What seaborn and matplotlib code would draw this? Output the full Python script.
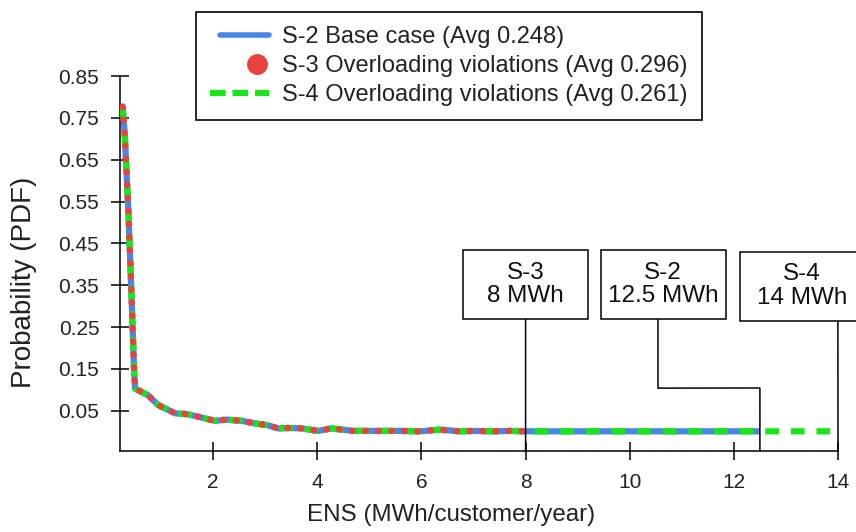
import numpy as np
import pandas as pd
import matplotlib
matplotlib.use("Agg")
import matplotlib.pyplot as plt
from matplotlib.lines import Line2D
from matplotlib.path import Path
from matplotlib.legend_handler import HandlerLine2D
import seaborn as sns

# ENS / probability values (same shape for all three scenarios up to 8 MWh)
ens_head = [0.26, 0.30, 0.37, 0.43, 0.48, 0.50, 0.55, 0.75, 0.94, 1.27, 1.50, 1.71, 2.03, 2.26,
            2.55, 2.80, 3.03, 3.25, 3.45, 3.70, 4.02, 4.27, 4.69, 5.20, 5.60, 5.97, 6.35, 6.74,
            7.00, 7.37, 7.70, 8.00]
pdf_head = [0.777, 0.713, 0.530, 0.330, 0.147, 0.103, 0.100, 0.087, 0.064, 0.044, 0.042, 0.036,
            0.026, 0.029, 0.026, 0.020, 0.016, 0.008, 0.009, 0.008, 0.002, 0.008, 0.002, 0.002,
            0.002, 0.001, 0.005, 0.001, 0.002, 0.001, 0.002, 0.001]

# tails beyond 8 MWh
ens_tail_s2 = [9.0, 10.0, 11.0, 12.0, 12.5]
pdf_tail_s2 = [0.001, 0.001, 0.001, 0.001, 0.001]
ens_tail_s4 = [9.0, 10.0, 11.0, 12.0, 13.0, 14.0]
pdf_tail_s4 = [0.001, 0.001, 0.001, 0.001, 0.001, 0.001]

labels = ["S-2 Base case (Avg 0.248)",
          "S-3 Overloading violations (Avg 0.296)",
          "S-4 Overloading violations (Avg 0.261)"]
box_texts = ["S-3\n8 MWh", "S-2\n12.5 MWh", "S-4\n14 MWh"]

blue = "#4a86e8"
red = "#e8433a"
green = "#19e619"

s2 = pd.DataFrame({"ENS": ens_head + ens_tail_s2, "PDF": pdf_head + pdf_tail_s2})
s3 = pd.DataFrame({"ENS": ens_head, "PDF": pdf_head})
s4 = pd.DataFrame({"ENS": ens_head + ens_tail_s4, "PDF": pdf_head + pdf_tail_s4})

sns.set_theme(style="white")
plt.rcParams["font.family"] = ["Liberation Sans", "DejaVu Sans"]

fig = plt.figure(figsize=(8.56, 5.32), dpi=100)
ax = fig.add_axes([120 / 856, 1 - 451 / 532, 718 / 856, 375 / 532])

# blue solid under, green dashed, red dots on top
sns.lineplot(data=s2, x="ENS", y="PDF", ax=ax, color=blue, linewidth=4.5,
             solid_capstyle="butt", zorder=2, legend=False)
sns.lineplot(data=s4, x="ENS", y="PDF", ax=ax, color=green, linewidth=4.5,
             linestyle=(0, (2.2, 1.9)), dash_capstyle="butt", zorder=3, legend=False)
sns.lineplot(data=s3, x="ENS", y="PDF", ax=ax, color=red, linewidth=4.7,
             linestyle=(0, (0.1, 1.9)), dash_capstyle="round", zorder=4, legend=False)

ax.set_xlim(0.21, 14)
ax.set_ylim(-0.046, 0.85)
ax.set_xticks(np.arange(2, 15, 2))
ax.set_yticks(np.arange(0.05, 0.86, 0.1))
ax.set_yticklabels([f"{v:.2f}" for v in np.arange(0.05, 0.86, 0.1)])

for side in ["top", "right"]:
    ax.spines[side].set_visible(False)
for side in ["left", "bottom"]:
    ax.spines[side].set_color("black")
    ax.spines[side].set_linewidth(1.1)

ax.tick_params(axis="both", direction="inout", length=13, width=1.1, color="black",
               labelsize=15, labelcolor="#222222", bottom=True, left=True)
ax.tick_params(axis="x", pad=9.5)
ax.tick_params(axis="y", pad=8.4)

ax.set_xlabel("ENS (MWh/customer/year)", fontsize=17.4, color="#222222")
ax.set_ylabel("Probability (PDF)", fontsize=20, color="#222222")
ax.xaxis.set_label_coords(0.461, -0.14)
ax.yaxis.set_label_coords(-0.116, 0.451)


# fixed-size boxes for the annotations (125 x 69 px)
def fixed_box(w, h):
    def style(x0, y0, width, height, mutation_size):
        cx = x0 + width / 2
        cy = y0 + height / 2
        return Path.unit_rectangle().transformed(
            matplotlib.transforms.Affine2D().scale(w, h).translate(cx - w / 2, cy - h / 2))
    return style


box_kw = dict(boxstyle=fixed_box(125, 69), facecolor="white", edgecolor="black", linewidth=1.1)
line_kw = dict(arrowstyle="-", color="black", lw=1.1, shrinkA=0, shrinkB=0)

ax.annotate(box_texts[0], xy=(s3["ENS"].iloc[-1], 0), xycoords=("data", "axes fraction"),
            xytext=(8.0, 0.352), textcoords="data", ha="center", va="center",
            fontsize=17.5, color="#111111", linespacing=1.1, bbox=box_kw,
            arrowprops=dict(line_kw, relpos=(0.5, 0.5)), zorder=6)
ax.annotate(box_texts[1], xy=(s2["ENS"].iloc[-1], 0), xycoords=("data", "axes fraction"),
            xytext=(10.64, 0.352), textcoords="data", ha="center", va="center",
            fontsize=17.5, color="#111111", linespacing=1.1, bbox=box_kw,
            arrowprops=dict(line_kw, relpos=(0.454, 0.5),
                            connectionstyle="arc,angleA=-90,armA=103.7,angleB=90,armB=63,rad=0"),
            zorder=6)
ax.annotate(box_texts[2], xy=(s4["ENS"].iloc[-1], 0), xycoords=("data", "axes fraction"),
            xytext=(13.31, 0.348), textcoords="data", ha="center", va="center",
            fontsize=17.5, color="#111111", linespacing=1.1, bbox=box_kw,
            arrowprops=dict(line_kw, relpos=(0.896, 0.5)), zorder=6, annotation_clip=False)


# legend handler that trims / shifts the handle horizontally
class ShiftedHandler(HandlerLine2D):
    def __init__(self, start=0.0, shift=0.0, **kw):
        super().__init__(**kw)
        self.start = start
        self.shift = shift

    def create_artists(self, legend, orig_handle, xdescent, ydescent, width, height,
                       fontsize, trans):
        artists = super().create_artists(legend, orig_handle, xdescent, ydescent, width,
                                         height, fontsize, trans)
        for a in artists:
            xd = np.asarray(a.get_xdata(), dtype=float)
            if len(xd) > 1:
                xd = np.linspace(xd.min() + self.start * width, xd.max(), len(xd))
            a.set_xdata(xd + self.shift * width)
        return artists


h_s2 = Line2D([], [], color=blue, linewidth=4.0)
h_s3 = Line2D([], [], color=red, marker="o", markersize=14, linestyle="none")
h_s4 = Line2D([], [], color=green, linewidth=4.5, linestyle=(0, (2.5, 1.1)))
leg = fig.legend([h_s2, h_s3, h_s4], labels, loc="upper left",
                 bbox_to_anchor=(196 / 856, 1 - 11.7 / 532),
                 bbox_transform=fig.transFigure, borderaxespad=0, frameon=True, fancybox=False,
                 edgecolor="black", framealpha=1, fontsize=17, borderpad=0.6, labelspacing=0.3,
                 handlelength=2.5, handletextpad=0.55,
                 handler_map={h_s2: ShiftedHandler(start=0.17),
                              h_s3: ShiftedHandler(shift=0.3)})
leg.get_frame().set_linewidth(1.2)
for t in leg.get_texts():
    t.set_color("#222222")

fig.savefig("out.png", dpi=100)
